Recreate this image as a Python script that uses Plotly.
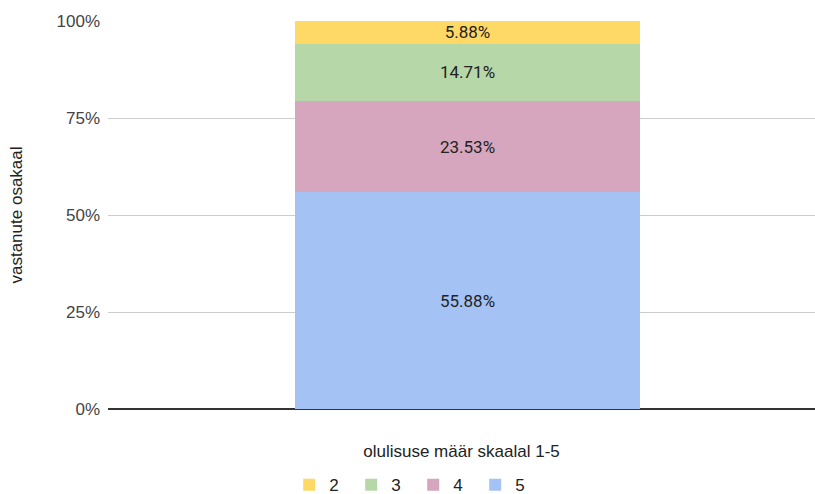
import plotly.graph_objects as go

category = ["olulisuse määr skaalal 1-5"]
series_names = ["5", "4", "3", "2"]
series_values = [55.88, 23.53, 14.71, 5.88]
colors = ["#a4c2f4", "#d5a6bd", "#b6d7a8", "#ffd966"]
y_ticks = [0, 25, 50, 75, 100]
y_tick_labels = ["0%", "25%", "50%", "75%", "100%"]

fig = go.Figure()
for name, val, col in zip(series_names, series_values, colors):
    fig.add_trace(go.Bar(
        x=[0],
        y=[val],
        name=name,
        marker=dict(color=col, line=dict(width=0)),
        width=0.48,
        text=[f"{val:.2f}%"],
        textposition="inside",
        insidetextanchor="middle",
        constraintext="none",
        textfont=dict(family="Roboto", color="#222222", size=17),
        textangle=0,
    ))

fig.update_layout(
    barmode="stack",
    width=815,
    height=494,
    margin=dict(l=108, r=0, t=21, b=85),
    paper_bgcolor="white",
    plot_bgcolor="white",
    font=dict(family="Arial, Liberation Sans, sans-serif", size=17, color="#444444"),
    showlegend=True,
    legend=dict(
        orientation="h",
        traceorder="reversed",
        xref="container", yref="container",
        x=0.507, xanchor="center",
        y=0.018, yanchor="middle",
        font=dict(size=17, color="#222222"),
        entrywidth=17, entrywidthmode="pixels",
        itemwidth=30,
    ),
)
fig.update_xaxes(
    range=[-0.5, 0.4833],
    showticklabels=False,
    showgrid=False,
    zeroline=False,
    automargin=False,
    title=dict(text=category[0], font=dict(size=17, color="#222222"), standoff=36),
)
fig.update_yaxes(
    range=[0, 100],
    tickvals=y_ticks,
    ticktext=y_tick_labels,
    showgrid=True,
    gridcolor="#cccccc",
    zeroline=True,
    zerolinecolor="#333333",
    zerolinewidth=1.5,
    automargin=False,
    ticklabelstandoff=7,
    title=dict(text="vastanute osakaal", font=dict(size=17, color="#222222"), standoff=29),
)

# drop the default page margin so the figure sits at the window's corner
fig.write_html(
    "out.html",
    config={"displayModeBar": False},
    post_script="document.body.style.margin='0';",
)
